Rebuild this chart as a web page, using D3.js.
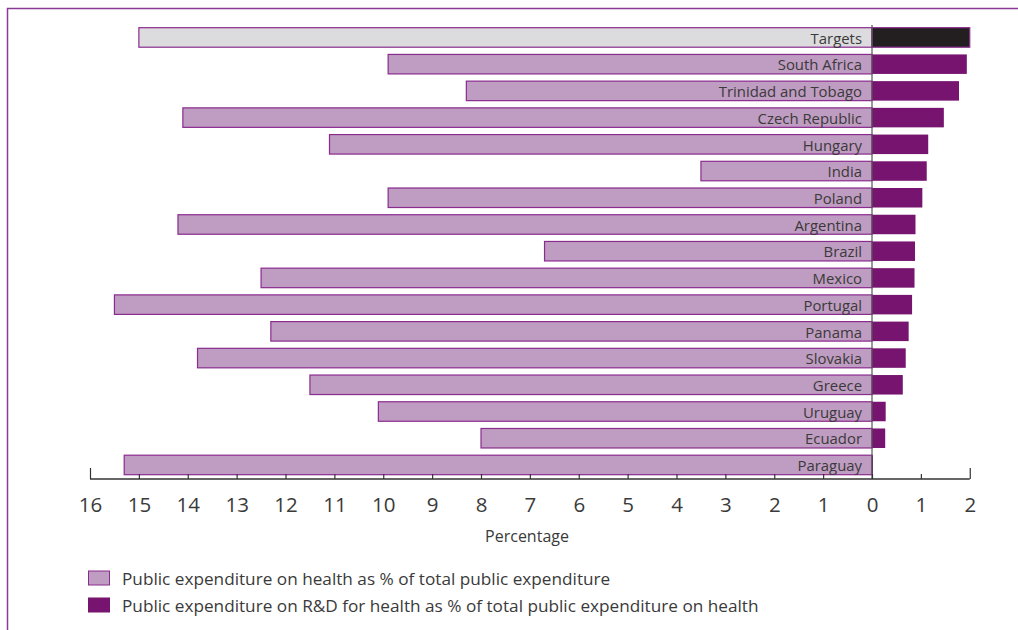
<!DOCTYPE html>
<html>
<head>
<meta charset="utf-8">
<script src="https://cdn.jsdelivr.net/npm/d3@7"></script>
<style>
  html, body { margin: 0; padding: 0; background: #fff; }
  svg { display: block; font-family: "Open Sans", "Noto Sans", sans-serif; }
</style>
</head>
<body>
<svg id="chart" width="1018" height="630"></svg>
<script>
// ---- Data ----
const categories = ["Targets", "South Africa", "Trinidad and Tobago", "Czech Republic", "Hungary", "India",
  "Poland", "Argentina", "Brazil", "Mexico", "Portugal", "Panama", "Slovakia", "Greece", "Uruguay",
  "Ecuador", "Paraguay"];
const healthShare = [15, 9.9, 8.3, 14.1, 11.1, 3.5, 9.9, 14.2, 6.7, 12.5, 15.5, 12.3, 13.8, 11.5, 10.1, 8.0, 15.3];
const rdShare = [2.0, 1.94, 1.78, 1.47, 1.15, 1.12, 1.03, 0.89, 0.88, 0.87, 0.82, 0.75, 0.69, 0.63, 0.28, 0.27, 0.02];
const tickValues = [-16, -15, -14, -13, -12, -11, -10, -9, -8, -7, -6, -5, -4, -3, -2, -1, 0, 1, 2];
const axisTitle = "Percentage";
const legendLabels = [
  "Public expenditure on health as % of total public expenditure",
  "Public expenditure on R&D for health as % of total public expenditure on health"
];

// ---- Styles ----
const lightFill = "#bf9cc1", lightStroke = "#8a2b8e";
const darkFill = "#76146f";
const targetFill = "#dcdcde", targetDark = "#231f20";
const textColor = "#3a3a3a";
const borderColor = "#8a3a96";

const svg = d3.select("#chart");

// frame (top and left lines)
svg.append("path")
  .attr("d", "M7.5,630 L7.5,8.5 L1018,8.5")
  .attr("fill", "none").attr("stroke", borderColor).attr("stroke-width", 1.5);

const x = d3.scaleLinear().domain([-16, 2]).range([90, 969.75]);
const y = d3.scaleBand().domain(categories).range([27.7, 474.7]).paddingInner(0.27).paddingOuter(0);

const rows = categories.map((c, i) => ({ c, h: healthShare[i], r: rdShare[i], target: c === "Targets" }));

// left bars
svg.append("g").selectAll("rect").data(rows).join("rect")
  .attr("x", d => x(-d.h))
  .attr("y", d => y(d.c))
  .attr("width", d => x(0) - x(-d.h))
  .attr("height", y.bandwidth())
  .attr("fill", d => d.target ? targetFill : lightFill)
  .attr("stroke", lightStroke)
  .attr("stroke-width", 1.2);

// right bars
svg.append("g").selectAll("rect").data(rows).join("rect")
  .attr("x", x(0))
  .attr("y", d => y(d.c))
  .attr("width", d => x(d.r) - x(0))
  .attr("height", y.bandwidth())
  .attr("fill", d => d.target ? targetDark : darkFill)
  .attr("stroke", d => d.target ? lightStroke : "none")
  .attr("stroke-width", 1.2);

// center line
svg.append("line")
  .attr("x1", x(0)).attr("x2", x(0))
  .attr("y1", 25).attr("y2", 479)
  .attr("stroke", "#555").attr("stroke-width", 1.2);

// category labels
svg.append("g").selectAll("text").data(rows).join("text")
  .attr("x", x(0) - 10)
  .attr("y", d => y(d.c) + y.bandwidth() / 2)
  .attr("dy", "0.42em")
  .attr("text-anchor", "end")
  .attr("font-size", 14.9)
  .attr("fill", textColor)
  .text(d => d.c);

// axis
const axisY = 479;
const axis = d3.axisBottom(x)
  .tickValues(tickValues)
  .tickSize(0)
  .tickPadding(0)
  .tickFormat(d => Math.abs(d));
const ag = svg.append("g").attr("transform", `translate(0,${axisY})`).call(axis);
ag.select(".domain").remove();
ag.append("line").attr("x1", x(-16)).attr("x2", x(2)).attr("y1", 0).attr("y2", 0)
  .attr("stroke", "#333").attr("stroke-width", 1.3);
ag.selectAll(".tick").append("line")
  .attr("y1", 0)
  .attr("y2", d => (d === -16 || d === 2) ? -11 : -5)
  .attr("stroke", "#333").attr("stroke-width", 1.2);
ag.selectAll(".tick text")
  .attr("y", 33)
  .attr("dy", 0)
  .attr("font-size", 20.5)
  .attr("font-family", "'Open Sans', 'Noto Sans', sans-serif")
  .attr("fill", textColor);

// axis title
svg.append("text")
  .attr("x", 527).attr("y", 541.5)
  .attr("text-anchor", "middle")
  .attr("font-size", 16)
  .attr("fill", textColor)
  .text(axisTitle);

// legend
const legend = svg.append("g");
const legendFills = [lightFill, darkFill];
legendLabels.forEach((lab, i) => {
  const gy = 571 + i * 27;
  legend.append("rect")
    .attr("x", 88.5).attr("y", gy)
    .attr("width", 21).attr("height", 14)
    .attr("fill", legendFills[i])
    .attr("stroke", i === 0 ? lightStroke : darkFill)
    .attr("stroke-width", 1);
  legend.append("text")
    .attr("x", 122).attr("y", gy + 14)
    .attr("font-size", 17.2)
    .attr("fill", textColor)
    .text(lab);
});
</script>
</body>
</html>
